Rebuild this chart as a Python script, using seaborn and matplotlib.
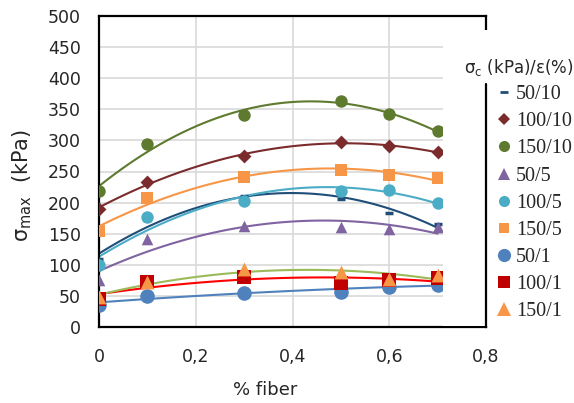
import numpy as np
import pandas as pd
import matplotlib
matplotlib.use("Agg")
import matplotlib.pyplot as plt
from matplotlib.lines import Line2D
from matplotlib.patches import Rectangle
import seaborn as sns

fiber = [0, 0.1, 0.3, 0.5, 0.6, 0.7]
labels = ["50/10", "100/10", "150/10", "50/5", "100/5", "150/5", "50/1", "100/1", "150/1"]
v_50_10 = [110, 172, 210, 206, 183, 166]
v_100_10 = [190, 233, 275, 297, 291, 281]
v_150_10 = [219, 295, 341, 363, 342, 315]
v_50_5 = [75, 142, 163, 160, 157, 160]
v_100_5 = [100, 177, 203, 218, 220, 200]
v_150_5 = [155, 207, 241, 252, 245, 239]
v_50_1 = [36, 50, 55, 57, 65, 68]
v_100_1 = [45, 73, 80, 70, 76, 78]
v_150_1 = [48, 72, 93, 88, 77, 83]
series = [v_50_10, v_100_10, v_150_10, v_50_5, v_100_5, v_150_5, v_50_1, v_100_1, v_150_1]
xticks = [0, 0.2, 0.4, 0.6, 0.8]
xticklabels = ["0", "0,2", "0,4", "0,6", "0,8"]
yticks = list(range(0, 501, 50))

marker_colors = ["#1F4E79", "#7B2B2B", "#5E7A2E", "#8064A2", "#4BACC6", "#F79646", "#4F81BD", "#C00000", "#F79646"]
line_colors = ["#1F4E79", "#7B2B2B", "#5E7A2E", "#8064A2", "#4BACC6", "#F79646", "#4F81BD", "#FF0000", "#9BBB59"]
markers = ["_", "D", "o", "^", "o", "s", "o", "s", "^"]
msizes = [40, 50, 80, 70, 80, 80, 110, 90, 100]
leg_ms = [6, 6, 8, 8, 8, 7.5, 9.5, 8.5, 10]

sns.set_style("white")
plt.rcParams['font.family'] = ['DejaVu Sans']

fig = plt.figure(figsize=(5.74, 4.03), dpi=100)
ax = fig.add_axes([99/574, 1-327/403, (486-99)/574, (327-16)/403])

xs = np.linspace(0, 0.7, 100)
for i, (lab, vals) in enumerate(zip(labels, series)):
    coef = np.polyfit(fiber, vals, 2)
    fit = pd.DataFrame({"x": xs, "y": np.polyval(coef, xs)})
    sns.lineplot(data=fit, x="x", y="y", ax=ax, color=line_colors[i], lw=1.5, zorder=2)
for i, (lab, vals) in enumerate(zip(labels, series)):
    df = pd.DataFrame({"x": fiber, "y": vals})
    kw = dict(linewidth=0)
    if markers[i] == "_":
        kw = dict(linewidth=2.5)
    sns.scatterplot(data=df, x="x", y="y", ax=ax, marker=markers[i], s=msizes[i],
                    color=marker_colors[i], edgecolor=marker_colors[i], zorder=3, **kw)

ax.set_xlim(0, 0.8)
ax.set_ylim(0, 500)
ax.set_xticks(xticks)
ax.set_xticklabels(xticklabels)
ax.set_yticks(yticks)
ax.grid(True, color="#D9D9D9", lw=1.2)
ax.set_axisbelow(True)
ax.tick_params(labelsize=12.5, length=0)
ax.tick_params(axis="x", pad=15)
ax.tick_params(axis="y", pad=13)
for s in ax.spines.values():
    s.set_color("black")
    s.set_linewidth(1.6)
ax.set_xlabel("% fiber", fontsize=13)
ax.set_ylabel(r"$\mathregular{\sigma_{max}}$  (kPa)", fontsize=15)
ax.xaxis.set_label_coords((265-99)/387, (327-390)/311)
ax.yaxis.set_label_coords((22-99)/387, (327-185)/311)
ax.xaxis.label.set_va("center")
ax.yaxis.label.set_va("center")

# white legend area
fig.add_artist(Rectangle((443/574, 1-325.5/403), (574-443)/574, (325.5-30)/403,
                         transform=fig.transFigure, facecolor="white", edgecolor="none", zorder=4))
fig.add_artist(Line2D([486/574, 486/574], [1-84/403, 1-327/403], color="black", lw=1.6, zorder=6))
fig.text(574/574, 1-68/403, r"$\mathregular{\sigma_c}$ (kPa)/ε(%)", ha="right", va="center",
         fontsize=12, zorder=7)

handles = [Line2D([], [], ls="none", marker=markers[i], color=marker_colors[i],
                  markersize=leg_ms[i], markeredgewidth=2 if markers[i] == "_" else 0)
           for i in range(len(labels))]
leg = fig.legend(handles, labels, loc="upper left", bbox_to_anchor=(500/574, 1-85/403),
                 frameon=False, prop={"family": "Liberation Serif", "size": 14.5},
                 handlelength=0.4, handletextpad=0.4, labelspacing=0.4,
                 borderpad=0, borderaxespad=0)
leg.set_zorder(7)

fig.savefig("out.png", dpi=100, facecolor="white")
